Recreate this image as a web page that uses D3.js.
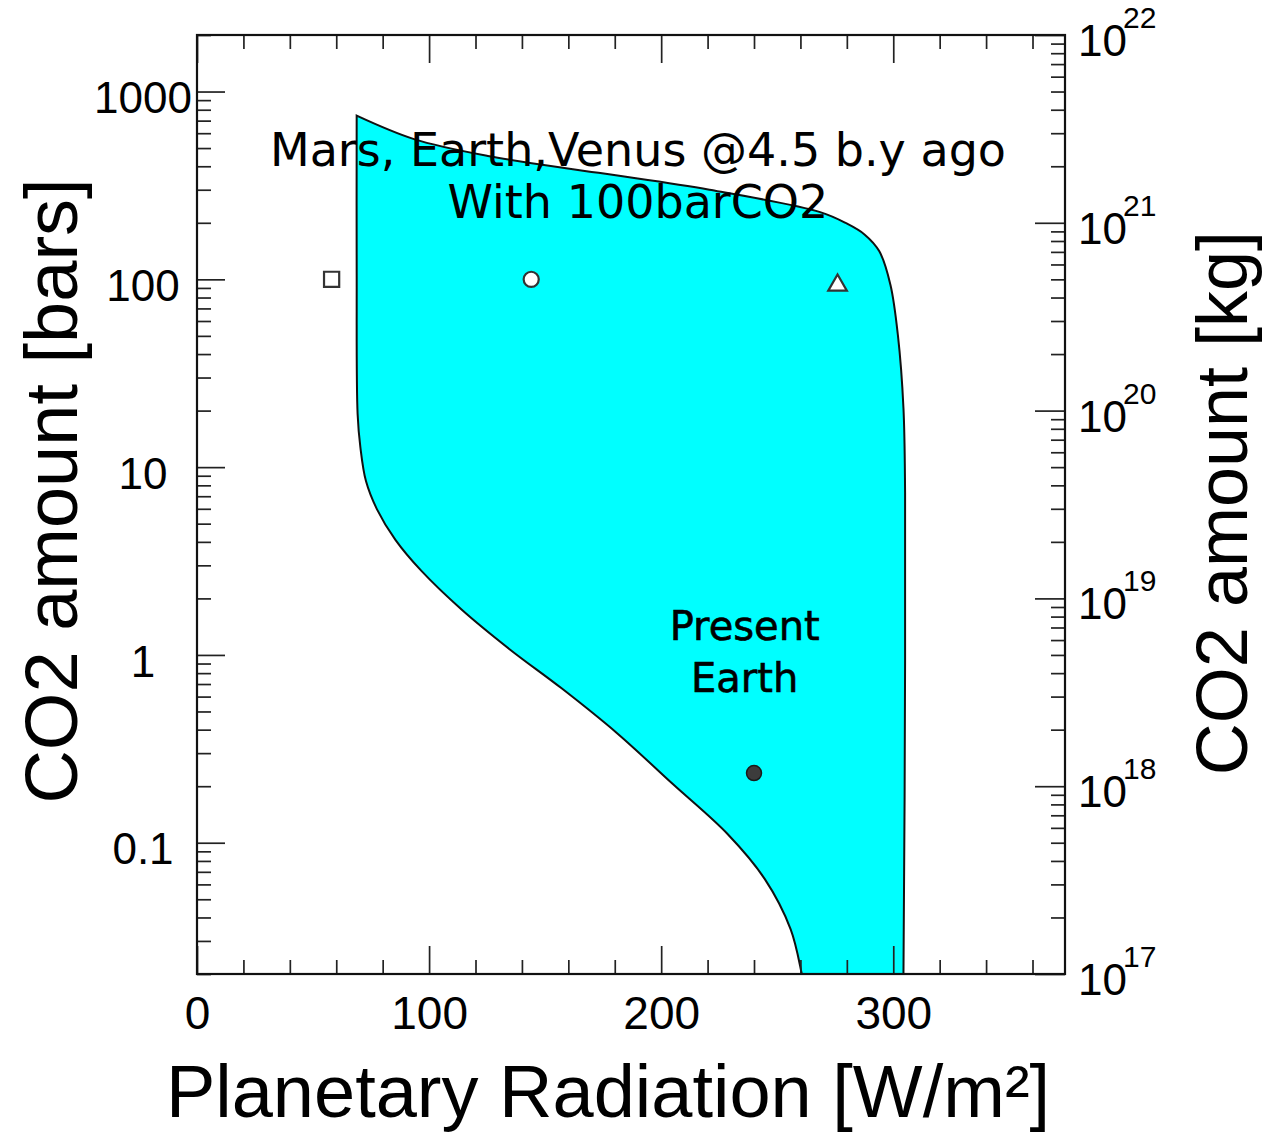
<!DOCTYPE html>
<html>
<head>
<meta charset="utf-8">
<script src="https://cdn.jsdelivr.net/npm/d3@7"></script>
<style>
  body { margin: 0; background: #fff; }
</style>
</head>
<body>
<svg id="chart" width="1262" height="1132"></svg>
<script>
// Outer boundary of the cyan region: planetary radiation (W/m²) and CO2 amount (bars),
// traced from the upper-left corner down the left edge, across the bottom, up the right edge and back along the top.
const boundaryRadiation = [68.8, 68.8, 69.2, 70.4, 72.8, 77.5, 85.5, 96.6, 114.1, 134.8, 157.1, 181.0, 204.9, 228.7, 244.6, 255.8, 260.6, 262.1,
                           304.2, 304.4, 305.1, 305.1, 304.4, 302.0, 298.8, 294.0, 287.6, 279.7, 268.5, 220.8, 173.0, 125.3, 93.5, 68.8];
const boundaryCO2 = [744, 115, 19.2, 12.75, 8.43, 5.98, 4.10, 2.81, 1.74, 1.07, 0.664, 0.383, 0.206, 0.111, 0.0642, 0.0346, 0.02, 0.0161,
                     0.0161, 0.02, 0.936, 7.35, 20.6, 50.4, 93.4, 141, 173.5, 199, 228, 300, 369, 454, 558, 744];

// Early planets, 4.5 billion years ago
const planetNames = ["Mars", "Earth", "Venus"];
const planetRadiation = [58, 144, 276];
const planetCO2 = [100, 100, 93];

// Present Earth
const presentRadiation = [240];
const presentCO2 = [0.235];

// Axis ticks
const xMajorTicks = [0, 100, 200, 300];
const xMinorTicks = [20, 40, 60, 80, 120, 140, 160, 180, 220, 240, 260, 280, 320, 340, 360];
const yMajorTicks = [0.1, 1, 10, 100, 1000];
const yTickLabels = ["0.1", "1", "10", "100", "1000"];
const kgExponents = [17, 18, 19, 20, 21, 22];

const annotationLines = ["Mars, Earth,Venus @4.5 b.y ago", "With 100barCO2"];
const presentLines = ["Present", "Earth"];

const W = 1262, H = 1132;
const plot = { left: 197, right: 1065, top: 35, bottom: 974 };
const labelFont = "'Liberation Sans', Arial, Helvetica, sans-serif";
const noteFont = "'DejaVu Sans', 'Noto Sans', sans-serif";

const svg = d3.select("#chart");
svg.append("rect").attr("width", W).attr("height", H).attr("fill", "#fff");

const x = d3.scaleLinear().domain([0, 374]).range([plot.left, plot.right]);
const y = d3.scaleLog().domain([0.02, 2000]).range([plot.bottom, plot.top]);
const yKg = d3.scaleLog().domain([1e17, 1e22]).range([plot.bottom, plot.top]);

svg.append("clipPath").attr("id", "plot-clip").append("rect")
  .attr("x", plot.left).attr("y", plot.top)
  .attr("width", plot.right - plot.left).attr("height", plot.bottom - plot.top);

// Cyan region
const regionLine = d3.line()
  .x(d => x(d[0]))
  .y(d => y(d[1]))
  .curve(d3.curveCatmullRom.alpha(0.5));
const regionPoints = boundaryRadiation.map((r, i) => [r, boundaryCO2[i]]);
svg.append("path")
  .attr("clip-path", "url(#plot-clip)")
  .attr("d", regionLine(regionPoints) + "Z")
  .attr("fill", "#00ffff")
  .attr("stroke", "#111")
  .attr("stroke-width", 2);

// Ticks
function styleTicks(g) {
  g.select(".domain").remove();
  g.selectAll(".tick line").attr("stroke", "#222").attr("stroke-width", 1.7);
}
const yMinorTicks = y.ticks().filter(v => Math.abs(Math.log10(v) - Math.round(Math.log10(v))) > 1e-6);
const kgMinorTicks = yKg.ticks().filter(v => Math.abs(Math.log10(v) - Math.round(Math.log10(v))) > 1e-6);

// bottom
svg.append("g").attr("transform", `translate(0,${plot.bottom})`)
  .call(d3.axisBottom(x).tickValues(xMajorTicks).tickSize(-28).tickSizeOuter(0).tickPadding(22).tickFormat(d3.format("d")))
  .call(styleTicks)
  .call(g => g.attr("font-family", labelFont).attr("font-size", 46))
  .call(g => g.selectAll("text").attr("fill", "#000"));
svg.append("g").attr("transform", `translate(0,${plot.bottom})`)
  .call(d3.axisBottom(x).tickValues(xMinorTicks).tickSize(-14).tickSizeOuter(0).tickFormat(""))
  .call(styleTicks);
// top
svg.append("g").attr("transform", `translate(0,${plot.top})`)
  .call(d3.axisTop(x).tickValues(xMajorTicks).tickSize(-28).tickSizeOuter(0).tickFormat(""))
  .call(styleTicks);
svg.append("g").attr("transform", `translate(0,${plot.top})`)
  .call(d3.axisTop(x).tickValues(xMinorTicks).tickSize(-14).tickSizeOuter(0).tickFormat(""))
  .call(styleTicks);
// left (bars)
svg.append("g").attr("transform", `translate(${plot.left},0)`)
  .call(d3.axisLeft(y).tickValues(yMajorTicks).tickSize(-28).tickSizeOuter(0).tickFormat((d, i) => yTickLabels[i]))
  .call(styleTicks)
  .call(g => g.attr("font-family", labelFont).attr("font-size", 44))
  .call(g => g.selectAll("text")
    .attr("text-anchor", "middle").attr("x", -54).attr("dy", "0.48em").attr("fill", "#000"));
svg.append("g").attr("transform", `translate(${plot.left},0)`)
  .call(d3.axisLeft(y).tickValues(yMinorTicks).tickSize(-14).tickSizeOuter(0).tickFormat(""))
  .call(styleTicks);
// right (kg)
svg.append("g").attr("transform", `translate(${plot.right},0)`)
  .call(d3.axisRight(yKg).tickValues(kgExponents.map(e => Math.pow(10, e))).tickSize(-30).tickSizeOuter(0).tickFormat(""))
  .call(styleTicks);
svg.append("g").attr("transform", `translate(${plot.right},0)`)
  .call(d3.axisRight(yKg).tickValues(kgMinorTicks).tickSize(-14).tickSizeOuter(0).tickFormat(""))
  .call(styleTicks);

const kgLabels = svg.append("g").attr("font-family", labelFont).attr("fill", "#000")
  .selectAll("text").data(kgExponents).join("text")
  .attr("x", plot.right + 13)
  .attr("y", e => yKg(Math.pow(10, e)) + 21)
  .attr("font-size", 44);
kgLabels.append("tspan").text("10");
kgLabels.append("tspan").attr("font-size", 30).attr("dx", -4).attr("dy", -28).text(e => e);

// Frame
svg.append("rect")
  .attr("x", plot.left).attr("y", plot.top)
  .attr("width", plot.right - plot.left).attr("height", plot.bottom - plot.top)
  .attr("fill", "none").attr("stroke", "#111").attr("stroke-width", 2.2);

// Planet markers
const symbolTypes = [d3.symbolSquare, d3.symbolCircle, d3.symbolTriangle];
const symbolSizes = [230, 180, 150];
svg.append("g").selectAll("path").data(planetNames).join("path")
  .attr("transform", (d, i) => `translate(${x(planetRadiation[i])},${y(planetCO2[i])})`)
  .attr("d", (d, i) => d3.symbol(symbolTypes[i], symbolSizes[i])())
  .attr("fill", "#fff").attr("stroke", "#333").attr("stroke-width", 2.2);

svg.append("g").selectAll("circle").data(presentRadiation).join("circle")
  .attr("cx", d => x(d)).attr("cy", (d, i) => y(presentCO2[i]))
  .attr("r", 7.5).attr("fill", "#3c3c3c").attr("stroke", "#1a1a1a").attr("stroke-width", 1.5);

// Annotations
svg.append("g").attr("font-family", noteFont).attr("font-size", 46).attr("text-anchor", "middle").attr("fill", "#000")
  .selectAll("text").data(annotationLines).join("text")
  .attr("x", x(190)).attr("y", (d, i) => y(400) + i * 52)
  .text(d => d);

svg.append("g").attr("font-family", noteFont).attr("font-size", 40).attr("text-anchor", "middle")
  .attr("fill", "#000").attr("stroke", "#000").attr("stroke-width", 0.6)
  .selectAll("text").data(presentLines).join("text")
  .attr("x", x(236)).attr("y", (d, i) => y(1.2) + i * 52)
  .text(d => d);

// Axis titles
svg.append("text")
  .attr("x", 608).attr("y", 1117)
  .attr("text-anchor", "middle").attr("font-family", labelFont).attr("font-size", 74).attr("fill", "#000")
  .text("Planetary Radiation [W/m²]");
svg.append("text")
  .attr("transform", "translate(77,491) rotate(-90)")
  .attr("text-anchor", "middle").attr("font-family", labelFont).attr("font-size", 74).attr("fill", "#000")
  .text("CO2 amount [bars]");
svg.append("text")
  .attr("transform", "translate(1247,503) rotate(-90)")
  .attr("text-anchor", "middle").attr("font-family", labelFont).attr("font-size", 72).attr("fill", "#000")
  .text("CO2 amount [kg]");
</script>
</body>
</html>
